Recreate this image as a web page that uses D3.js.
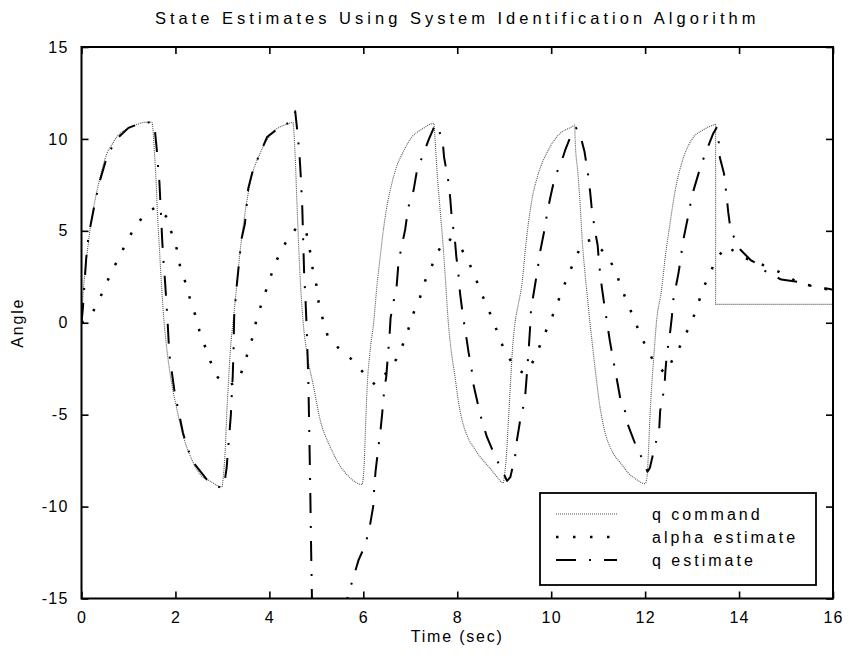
<!DOCTYPE html>
<html>
<head>
<meta charset="utf-8">
<script src="https://cdn.jsdelivr.net/npm/d3@7"></script>
<style>
  html, body { margin: 0; padding: 0; background: #fff; }
  svg text { font-family: "Liberation Sans", Arial, Helvetica, sans-serif; fill: #000; }
</style>
</head>
<body>
<svg id="chart" width="849" height="656"></svg>
<script>
// ---- data -------------------------------------------------------------
const cmdT = [0.00,0.02,0.04,0.08,0.11,0.15,0.18,0.23,0.29,0.40,0.54,0.65,0.75,0.90,1.04,1.20,1.32,1.50,
  1.55,1.59,1.62,1.66,1.70,1.75,1.82,1.92,2.03,2.17,2.35,2.53,2.74,2.99,
  3.02,3.06,3.09,3.12,3.17,3.24,3.31,3.38,3.45,3.59,3.80,3.95,4.09,4.37,4.50,
  4.55,4.59,4.65,4.72,4.80,4.94,5.08,5.29,5.51,5.72,5.97,
  6.02,6.05,6.08,6.14,6.22,6.29,6.36,6.43,6.50,6.60,6.71,6.85,6.99,7.28,7.50,
  7.53,7.57,7.63,7.69,7.74,7.81,7.87,7.95,8.02,8.10,8.22,8.38,8.52,8.66,8.82,8.98,
  9.00,9.05,9.09,9.13,9.17,9.23,9.30,9.37,9.48,9.59,9.73,9.94,10.15,10.47,10.50,
  10.51,10.57,10.62,10.66,10.72,10.79,10.85,10.94,11.04,11.15,11.30,11.50,11.65,11.80,12.00,
  12.04,12.07,12.10,12.14,12.19,12.24,12.35,12.43,12.53,12.64,12.78,12.99,13.24,13.50,
  13.50,16.00];
const cmdV = [0.0,1.0,1.8,2.9,3.6,4.4,5.05,5.9,6.7,7.95,9.2,9.7,10.1,10.45,10.65,10.8,10.9,10.9,
  9.4,7.6,5.8,4.0,2.2,0.3,-1.5,-3.3,-4.7,-6.2,-7.45,-8.26,-8.62,-8.93,
  -8.35,-6.9,-5.1,-3.64,-1.47,0.34,2.16,3.97,5.4,7.6,9.2,9.95,10.4,10.8,10.9,
  9.0,6.3,2.7,0.0,-1.65,-3.46,-5.27,-6.72,-7.8,-8.44,-8.8,
  -7.6,-5.5,-3.6,-1.63,0.0,2.0,3.6,5.1,6.3,7.5,8.5,9.3,9.95,10.58,10.85,
  9.9,8.2,6.3,4.5,2.7,0.0,-1.5,-2.9,-4.2,-5.27,-6.2,-6.9,-7.4,-7.8,-8.3,-8.71,
  -8.4,-7.1,-5.27,-3.46,-1.65,0.0,1.0,1.97,4.7,6.7,8.14,9.4,10.2,10.7,10.75,
  9.95,8.1,6.3,4.5,2.7,0.9,-0.56,-2.6,-4.6,-6.0,-7.0,-7.7,-8.2,-8.5,-8.75,
  -8.4,-7.07,-5.27,-3.46,-1.65,0.0,1.8,3.6,5.4,7.2,8.7,9.95,10.5,10.8,
  1.0,1.0];

const alphaT = [0.00,0.08,0.19,0.36,0.50,0.65,0.81,0.97,1.14,1.36,1.60,1.82,1.92,2.03,2.10,2.21,2.31,2.42,2.51,2.63,2.75,2.90,
  3.12,3.33,3.45,3.56,3.66,3.73,3.85,3.96,4.07,4.21,4.38,4.60,4.79,4.86,4.92,5.00,5.05,5.14,5.24,5.49,5.78,6.02,
  6.25,6.48,6.70,6.84,6.96,7.07,7.21,7.32,7.46,7.60,7.80,8.08,8.24,8.39,8.52,8.65,8.79,8.91,9.05,9.27,
  9.42,9.59,9.73,9.87,10.01,10.14,10.26,10.40,10.53,10.71,10.85,10.99,11.18,11.36,11.48,11.61,11.75,11.88,12.03,12.20,
  12.42,12.69,12.85,13.00,13.12,13.24,13.38,13.52,13.72,13.95,14.23,14.45,14.70,15.01,15.28,15.62,16.00];
const alphaV = [0.0,0.1,0.34,1.16,1.97,2.83,3.6,4.46,5.2,5.96,6.3,5.74,4.87,4.0,3.06,2.21,1.3,0.43,-0.43,-1.29,-2.14,-2.97,
  -3.4,-3.23,-2.37,-1.47,-0.65,0.25,1.16,2.0,2.84,3.73,4.51,5.25,4.87,3.97,2.97,2.06,1.1,0.16,-0.7,-1.43,-2.05,-2.77,
  -3.37,-2.75,-2.0,-1.2,-0.34,0.53,1.4,2.3,3.1,3.93,4.6,4.06,3.33,2.43,1.58,0.8,-0.05,-0.92,-1.74,-2.52,
  -2.75,-2.23,-1.43,-0.56,0.25,1.12,1.94,2.79,3.64,4.42,4.5,4.18,3.7,2.88,2.0,1.16,0.31,-0.53,-1.38,-2.19,
  -2.74,-1.56,-0.69,0.1,0.98,1.88,2.7,3.45,4.18,3.8,3.39,3.2,2.97,2.55,2.15,1.97,1.75];

const qEstT = [0.00,0.03,0.06,0.10,0.14,0.20,0.30,0.40,0.55,0.75,1.00,1.25,1.45,1.55,1.60,1.63,1.66,1.68,1.70,1.72,1.75,1.78,
  1.83,1.87,1.94,1.99,2.06,2.16,2.26,2.38,2.67,2.85,2.99,3.05,3.09,3.12,3.15,3.18,3.20,3.22,3.24,3.25,3.30,3.36,3.41,3.48,
  3.55,3.66,3.80,3.95,4.15,4.30,4.45,4.52,4.55,4.60,4.64,4.67,4.70,4.72,4.74,4.77,4.79,4.81,4.83,4.85,4.87,4.89,4.91,4.93,
  5.60,5.66,5.70,5.76,5.90,6.04,6.13,6.21,6.23,6.26,6.32,6.36,6.40,6.44,6.49,6.52,6.56,6.58,6.64,6.71,6.75,6.82,6.89,6.96,
  7.07,7.15,7.27,7.39,7.50,7.57,7.62,7.69,7.72,7.81,7.85,7.88,7.95,7.98,8.02,8.06,8.11,8.15,8.20,8.24,8.30,8.34,8.45,8.52,
  8.63,8.81,8.95,9.06,9.13,9.23,9.27,9.34,9.44,9.47,9.52,9.55,9.57,9.65,9.71,9.76,9.85,9.91,9.98,10.08,10.21,10.30,10.47,
  10.53,10.62,10.71,10.79,10.83,10.86,10.93,10.99,11.02,11.08,11.13,11.18,11.25,11.32,11.38,11.47,11.57,11.64,11.82,11.96,
  12.05,12.10,12.21,12.30,12.32,12.41,12.43,12.46,12.53,12.57,12.60,12.71,12.76,12.80,12.90,12.96,13.03,13.17,13.28,13.45,
  13.52,13.56,13.59,13.68,13.73,13.77,13.82,13.92,14.03,14.25,14.40,14.50,14.70,14.90,15.30,15.60,15.90,16.00];
const qEstV = [0.0,0.8,2.0,3.5,4.5,5.4,6.7,7.8,9.1,10.0,10.6,10.85,10.9,10.8,9.5,8.5,7.6,6.5,5.5,4.4,3.2,2.2,
  0.2,-1.7,-3.0,-3.9,-4.73,-5.98,-6.85,-7.6,-8.53,-8.85,-9.0,-8.6,-7.9,-6.9,-6.0,-5.0,-3.9,-2.9,-1.2,0.3,1.9,3.4,4.6,5.4,
  7.3,8.4,9.2,10.1,10.5,10.76,10.9,11.1,11.5,10.3,9.2,7.9,6.3,4.5,2.7,1.2,0.0,-1.5,-3.2,-6.0,-9.0,-12.5,-15.5,-17.0,
  -17.0,-15.0,-14.6,-14.1,-12.9,-12.1,-11.2,-10.0,-9.1,-8.1,-6.8,-6.0,-5.0,-3.8,-2.9,-1.9,-0.65,0.25,1.1,2.0,3.3,4.2,5.05,6.3,
  7.2,8.4,9.1,9.95,10.6,10.8,10.4,9.85,9.0,7.7,6.8,5.8,4.5,3.6,2.8,1.6,0.6,-0.1,-0.9,-1.6,-2.4,-3.3,-4.55,-5.3,
  -6.2,-7.3,-8.0,-8.6,-8.4,-7.3,-6.4,-5.3,-4.2,-3.2,-1.5,-0.3,0.7,1.96,2.9,3.8,4.96,5.9,6.8,7.95,8.7,9.4,10.5,
  10.6,10.2,9.3,8.0,7.1,6.3,5.05,4.2,3.2,1.9,1.0,0.16,-1.0,-2.0,-2.83,-4.1,-4.8,-5.6,-6.8,-7.5,
  -8.1,-7.9,-6.7,-5.8,-4.8,-3.55,-2.7,-1.75,-0.56,0.34,1.25,2.7,3.5,4.35,5.6,6.4,7.2,8.4,9.2,10.3,
  10.6,10.1,9.0,8.1,7.0,6.0,5.05,4.5,3.97,3.4,3.2,2.9,2.6,2.35,2.2,1.95,1.85,1.8];

const xTicks = [0, 2, 4, 6, 8, 10, 12, 14, 16];
const yTicks = [-15, -10, -5, 0, 5, 10, 15];
const seriesNames = ["q command", "alpha estimate", "q estimate"];

const titleText = "State Estimates Using System Identification Algorithm";
const xLabel = "Time (sec)";
const yLabel = "Angle";

// ---- layout -----------------------------------------------------------
const W = 849, H = 656;
const plot = { left: 81.5, right: 833, top: 47, bottom: 598.5 };

const svg = d3.select("#chart");
svg.append("rect").attr("width", W).attr("height", H).attr("fill", "#fff");

const x = d3.scaleLinear().domain([0, 16]).range([plot.left, plot.right]);
const y = d3.scaleLinear().domain([-15, 15]).range([plot.bottom, plot.top]);

svg.append("clipPath").attr("id", "plotClip")
  .append("rect")
  .attr("x", plot.left).attr("y", plot.top)
  .attr("width", plot.right - plot.left).attr("height", plot.bottom - plot.top);

// line styles
const styles = {
  cmd:   { stroke: "#555", width: 1.1, dash: "1,1" },
  alpha: { stroke: "#000", width: 2.5, dash: "2.5,14.5" },
  qest:  { stroke: "#000", width: 2.0, dash: "20,13,2,13" }
};

const zip = (ts, vs) => ts.map((t, i) => [t, vs[i]]);
const smooth = d3.line().x(d => x(d[0])).y(d => y(d[1])).curve(d3.curveMonotoneX);
const straight = d3.line().x(d => x(d[0])).y(d => y(d[1])).curve(d3.curveLinear);

const g = svg.append("g").attr("clip-path", "url(#plotClip)");

function drawSeries(data, st, gen) {
  g.append("path")
    .datum(data)
    .attr("fill", "none")
    .attr("stroke", st.stroke)
    .attr("stroke-width", st.width)
    .attr("stroke-dasharray", st.dash)
    .attr("stroke-linejoin", "round")
    .attr("d", gen);
}

// q command: smooth response up to the last peak, then the step down and hold
const cmdPts = zip(cmdT, cmdV);
const stepIdx = cmdT.indexOf(13.5);
drawSeries(cmdPts.slice(0, stepIdx + 1), styles.cmd, smooth);
drawSeries(cmdPts.slice(stepIdx), styles.cmd, straight);
drawSeries(zip(alphaT, alphaV), styles.alpha, straight);
drawSeries(zip(qEstT, qEstV), styles.qest, straight);

// ---- axes (boxed, ticks pointing inward) ------------------------------
const tickLen = 7;
const fmt = d => String(d);
const axBottom = d3.axisBottom(x).tickValues(xTicks).tickFormat(fmt).tickSizeInner(-tickLen).tickSizeOuter(0).tickPadding(13);
const axTop = d3.axisTop(x).tickValues(xTicks).tickSizeInner(-tickLen).tickSizeOuter(0).tickFormat("");
const axLeft = d3.axisLeft(y).tickValues(yTicks).tickFormat(fmt).tickSizeInner(-tickLen).tickSizeOuter(0).tickPadding(13);
const axRight = d3.axisRight(y).tickValues(yTicks).tickSizeInner(-tickLen).tickSizeOuter(0).tickFormat("");

function styleAxis(sel) {
  sel.select(".domain").remove();
  sel.selectAll(".tick line").attr("stroke", "#000").attr("stroke-width", 1.6);
  sel.selectAll(".tick text")
    .attr("font-size", 16)
    .attr("letter-spacing", "1.2px")
    .attr("font-family", "'Liberation Sans', Arial, sans-serif");
}

svg.append("g").attr("transform", `translate(0,${plot.bottom})`).call(axBottom).call(styleAxis);
svg.append("g").attr("transform", `translate(0,${plot.top})`).call(axTop).call(styleAxis);
svg.append("g").attr("transform", `translate(${plot.left},0)`).call(axLeft).call(styleAxis);
svg.append("g").attr("transform", `translate(${plot.right},0)`).call(axRight).call(styleAxis);

svg.append("rect")
  .attr("x", plot.left).attr("y", plot.top)
  .attr("width", plot.right - plot.left).attr("height", plot.bottom - plot.top)
  .attr("fill", "none").attr("stroke", "#000").attr("stroke-width", 2);

// ---- titles -----------------------------------------------------------
svg.append("text")
  .attr("x", (plot.left + plot.right) / 2).attr("y", 24)
  .attr("text-anchor", "middle")
  .attr("font-size", 16.5).attr("letter-spacing", "4px")
  .text(titleText);

svg.append("text")
  .attr("x", (plot.left + plot.right) / 2).attr("y", 642)
  .attr("text-anchor", "middle")
  .attr("font-size", 16).attr("letter-spacing", "1.8px")
  .text(xLabel);

svg.append("text")
  .attr("transform", `translate(23,${y(0)}) rotate(-90)`)
  .attr("text-anchor", "middle")
  .attr("font-size", 16).attr("letter-spacing", "1.8px")
  .text(yLabel);

// ---- legend -----------------------------------------------------------
const legend = svg.append("g");
legend.append("rect")
  .attr("x", 540).attr("y", 493).attr("width", 276).attr("height", 92)
  .attr("fill", "#fff").attr("stroke", "#000").attr("stroke-width", 1.8);

const legendStyles = [styles.cmd, styles.alpha, styles.qest];
const rowY = [514, 537, 560];
seriesNames.forEach((name, i) => {
  legend.append("line")
    .attr("x1", 556).attr("x2", 617)
    .attr("y1", rowY[i]).attr("y2", rowY[i])
    .attr("stroke", legendStyles[i].stroke)
    .attr("stroke-width", legendStyles[i].width)
    .attr("stroke-dasharray", legendStyles[i].dash);
  legend.append("text")
    .attr("x", 652).attr("y", rowY[i] + 6)
    .attr("font-size", 16).attr("letter-spacing", "3px")
    .text(name);
});
</script>
</body>
</html>
